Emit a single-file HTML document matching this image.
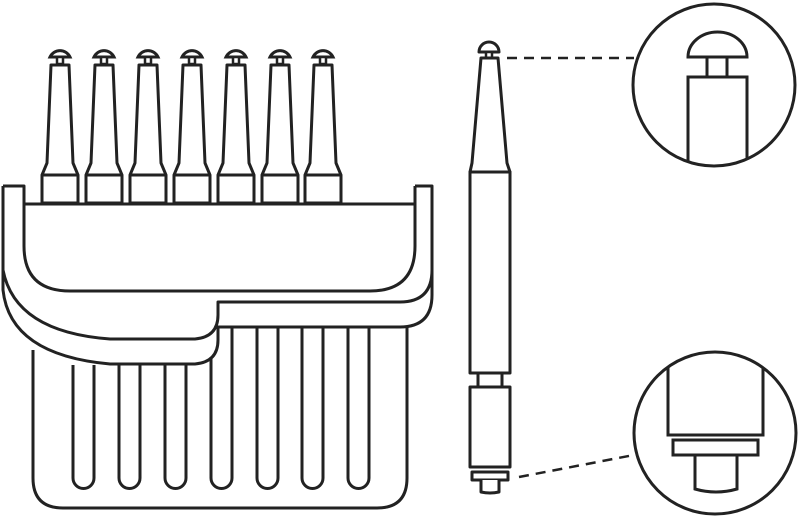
<!DOCTYPE html>
<html><head><style>html,body{margin:0;padding:0;background:#fff}svg{display:block}</style></head>
<body>
<svg width="800" height="520" viewBox="0 0 800 520" xmlns="http://www.w3.org/2000/svg">
<defs>
<g id="bur">
<path d="M-10,57 A11,11 0 0 1 10,57 Z" fill="#fff" stroke="#222" stroke-width="3"/>
<rect x="-3" y="57" width="6" height="7" fill="#fff" stroke="#222" stroke-width="2.5"/>
<path d="M-9,65 L9,65 L13,163 L18,175 L18,203 L-18,203 L-18,175 L-13,163 Z" fill="#fff" stroke="#222" stroke-width="3" stroke-linejoin="round"/>
<line x1="-18" y1="175" x2="18" y2="175" stroke="#222" stroke-width="3"/>
</g>
<clipPath id="c1"><circle cx="714" cy="85" r="81"/></clipPath>
<clipPath id="c2"><circle cx="715" cy="433" r="81"/></clipPath>
</defs>
<g fill="none" stroke="#222" stroke-width="3" stroke-linejoin="round">
<!-- lower box -->
<path d="M33,350 L33,478 Q33,508 63,508 L377,508 Q407,508 407,478 L407,327" fill="#fff"/>
<g fill="#fff">
<path d="M73,365 L73,478 A10.5,10.5 0 0 0 94,478 L94,365"/>
<path d="M119,365 L119,478 A10.5,10.5 0 0 0 140,478 L140,365"/>
<path d="M165,365 L165,478 A10.5,10.5 0 0 0 186,478 L186,365"/>
<path d="M211,350 L211,478 A10.5,10.5 0 0 0 232,478 L232,327"/>
<path d="M257,327 L257,478 A10.5,10.5 0 0 0 278,478 L278,327"/>
<path d="M302,327 L302,478 A10.5,10.5 0 0 0 323,478 L323,327"/>
<path d="M348,327 L348,478 A10.5,10.5 0 0 0 369,478 L369,327"/>
</g>
<!-- outer lower lip -->
<path d="M3,186 L3,290 Q10,355 110,364 L195,364 Q218,362 218,340 L218,327 L400,327 Q432,327 432,295 L432,186 L415,186" fill="#fff"/>
<path d="M3,270 Q15,332 110,339 L195,339 Q218,337 218,315 L218,302 L400,302 Q432,302 432,270"/>
<path d="M3,186 L24,186 L24,246 Q24,291 70,291 L370,291 Q415,291 415,246 L415,186"/>
<line x1="24" y1="204" x2="415" y2="204"/>
</g>
<use href="#bur" x="60"/><use href="#bur" x="104"/><use href="#bur" x="148"/><use href="#bur" x="192"/><use href="#bur" x="236"/><use href="#bur" x="280"/><use href="#bur" x="323"/>
<!-- single bur -->
<g fill="#fff" stroke="#222" stroke-width="3" stroke-linejoin="round">
<path d="M479,52 A10,10 0 0 1 499,52 Z"/>
<rect x="486" y="52" width="6" height="6" stroke-width="2.5"/>
<path d="M481,58 L498,58 L507,163 L510,172 L470,172 L472,163 Z"/>
<rect x="470" y="172" width="40" height="201"/>
<rect x="478" y="373" width="24" height="14"/>
<rect x="470" y="387" width="40" height="80"/>
<rect x="472" y="472" width="36" height="8"/>
<path d="M481,480 L481,492 Q490,494 499,492 L499,480"/>
</g>
<g stroke="#222" stroke-width="2.5" stroke-dasharray="10,7" fill="none">
<line x1="507" y1="58" x2="634" y2="58"/>
<line x1="519" y1="477" x2="634" y2="455"/>
</g>
<!-- top circle -->
<g clip-path="url(#c1)" fill="#fff" stroke="#222" stroke-width="3">
<path d="M688,57 A29.5,25 0 0 1 747,57 Z"/>
<rect x="707" y="57" width="20" height="20"/>
<rect x="688" y="77" width="59" height="120"/>
</g>
<circle cx="714" cy="85" r="81" fill="none" stroke="#222" stroke-width="3"/>
<!-- bottom circle -->
<g clip-path="url(#c2)" fill="#fff" stroke="#222" stroke-width="3">
<rect x="668" y="330" width="95" height="105"/>
<rect x="673" y="440" width="85" height="15"/>
<path d="M695,455 L695,489 Q716,495 737,489 L737,455 Z"/>
</g>
<circle cx="715" cy="433" r="81" fill="none" stroke="#222" stroke-width="3"/>
</svg>
</body></html>
